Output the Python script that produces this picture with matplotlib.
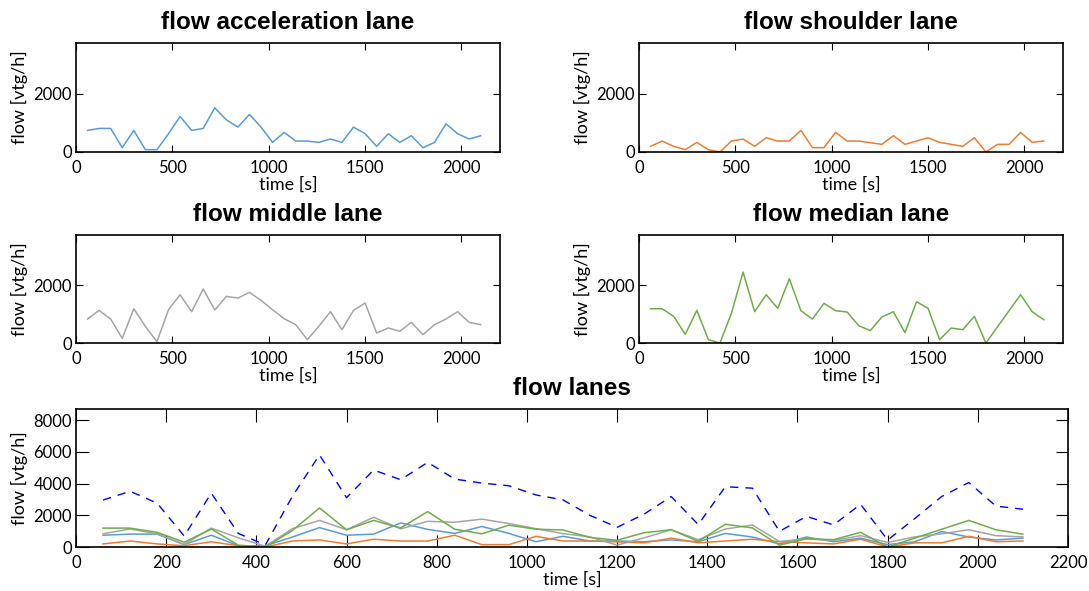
import numpy as np
import matplotlib.pyplot as plt

plt.rcParams['font.family'] = ['Lato', 'DejaVu Sans']

time = np.arange(60, 2101, 60)

acceleration = [743, 811, 811, 149, 743, 80, 80, 629, 1223, 743,
                811, 1520, 1109, 857, 1292, 857, 331, 674, 377, 377,
                331, 446, 331, 857, 629, 194, 629, 331, 560, 149,
                331, 971, 629, 446, 560]
shoulder = [194, 377, 194, 80, 331, 80, 0, 377, 446, 194,
            491, 377, 377, 743, 149, 149, 674, 377, 377, 320,
            263, 560, 263, 377, 491, 331, 263, 194, 491, 0,
            263, 263, 674, 331, 377]
middle = [832, 1133, 832, 162, 1190, 578, 46, 1156, 1676, 1087,
          1873, 1144, 1618, 1560, 1757, 1480, 1156, 844, 636, 116,
          578, 1087, 462, 1133, 1387, 347, 520, 405, 717, 289,
          636, 832, 1087, 717, 636]
median = [1190, 1190, 925, 300, 1133, 116, 0, 1040, 2462, 1087,
          1676, 1202, 2231, 1121, 832, 1376, 1121, 1075, 601, 428,
          902, 1087, 358, 1433, 1202, 116, 520, 462, 925, 0,
          560, 1120, 1676, 1087, 809]

total = np.array(acceleration) + np.array(shoulder) + np.array(middle) + np.array(median)

colors = {'acc': '#5B9BD5', 'sh': '#ED7D31', 'mid': '#A5A5A5', 'med': '#70AD47'}

W, H = 1089, 591
fig = plt.figure(figsize=(W / 100, H / 100), dpi=100)


def box(l, t, r, b):
    return [l / W, 1 - b / H, (r - l) / W, (b - t) / H]


def style(ax, title, ticklen):
    ax.tick_params(direction='in', top=True, right=True, length=ticklen, width=0.8,
                   labelsize=12)
    ax.tick_params(axis='x', pad=6)
    ax.tick_params(axis='y', pad=3)
    for s in ax.spines.values():
        s.set_linewidth(1.2)
    ax.set_xlabel('time [s]', fontsize=13, labelpad=0)
    ax.set_ylabel('flow [vtg/h]', fontsize=13, labelpad=4)
    ax.set_title(title, fontsize=17.5, fontweight='bold',
                 family='Liberation Sans', pad=10)


panels = [
    (box(76, 43, 500, 152), acceleration, colors['acc'], 'flow acceleration lane'),
    (box(639, 43, 1063, 152), shoulder, colors['sh'], 'flow shoulder lane'),
    (box(76, 235, 500, 343), middle, colors['mid'], 'flow middle lane'),
    (box(639, 235, 1063, 343), median, colors['med'], 'flow median lane'),
]

for rect, data, c, title in panels:
    ax = fig.add_axes(rect)
    ax.plot(time, data, color=c, lw=1.1)
    ax.set_xlim(0, 2200)
    ax.set_ylim(0, 3750)
    ax.set_xticks([0, 500, 1000, 1500, 2000])
    ax.set_yticks([0, 2000])
    style(ax, title, 5)

ax = fig.add_axes(box(76, 409, 1068, 547))
ax.plot(time, total, color='#0000FF', lw=1.0, linestyle=(0, (6, 5)))
ax.plot(time, acceleration, color=colors['acc'], lw=1.1)
ax.plot(time, shoulder, color=colors['sh'], lw=1.1)
ax.plot(time, middle, color=colors['mid'], lw=1.1)
ax.plot(time, median, color=colors['med'], lw=1.1)
ax.set_xlim(0, 2200)
ax.set_ylim(0, 8700)
ax.set_xticks(np.arange(0, 2201, 200))
ax.set_yticks(np.arange(0, 8001, 2000))
style(ax, 'flow lanes', 9)

fig.savefig('out.png', dpi=100)
